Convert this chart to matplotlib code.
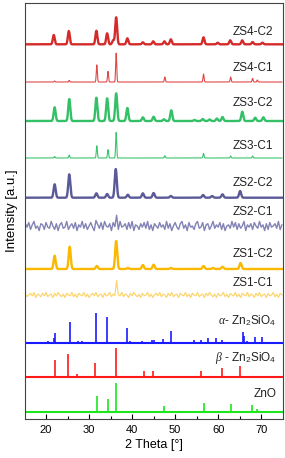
#XRD patterns of the ZS samples with reference sticks
import numpy as np
import matplotlib
matplotlib.use('Agg')
import matplotlib.pyplot as plt

plt.rcParams['font.family'] = ['Liberation Sans', 'DejaVu Sans']
plt.rcParams['mathtext.fontset'] = 'custom'
plt.rcParams['mathtext.rm'] = 'Liberation Sans'
plt.rcParams['mathtext.it'] = 'Liberation Serif:italic'

#measured patterns, peak positions (2 theta) and heights (a.u.)
zs4c2_pos = [21.8, 25.3, 31.7, 34.2, 35.6, 36.3, 38.9, 42.5, 44.9, 47.5, 49.0, 56.6, 59.9, 62.8, 65.6, 68.0, 70.3]
zs4c2_h = [9.3, 13.3, 13.6, 11.0, 4.0, 27.0, 6.0, 2.0, 3.0, 3.0, 5.0, 7.0, 1.6, 4.0, 4.0, 2.3, 1.6]
zs4c1_pos = [22.0, 25.4, 31.8, 34.4, 36.3, 47.6, 56.6, 62.9, 68.0, 69.1]
zs4c1_h = [1.0, 1.6, 17.3, 10.6, 29.0, 5.0, 8.0, 5.0, 3.6, 2.0]
zs3c2_pos = [22.0, 25.4, 31.7, 34.2, 36.3, 38.9, 42.5, 45.0, 47.4, 49.1, 54.5, 56.4, 58.0, 59.7, 61.0, 65.6, 68.6, 70.5]
zs3c2_h = [13.7, 22.0, 23.3, 22.7, 27.7, 13.0, 3.7, 4.3, 1.7, 10.7, 1.0, 2.0, 1.5, 2.5, 4.0, 9.3, 3.3, 3.7]
zs3c1_pos = [22.0, 25.4, 31.8, 34.4, 36.3, 47.6, 56.6, 62.9, 68.0]
zs3c1_h = [1.5, 3.0, 12.3, 8.3, 25.6, 2.3, 4.6, 2.0, 2.0]
zs2c2_pos = [22.0, 25.4, 31.7, 34.2, 36.2, 39.0, 42.5, 45.0, 49.0, 56.5, 58.6, 61.0, 65.1]
zs2c2_h = [13.4, 23.4, 4.4, 3.7, 28.7, 3.0, 4.4, 4.7, 1.7, 2.7, 1.7, 3.4, 6.7]
zs2c1_pos = [31.7, 36.3]
zs2c1_h = [4.0, 12.0]
zs1c2_pos = [22.0, 25.5, 31.8, 36.3, 39.0, 42.5, 45.0, 49.0, 56.6, 58.8, 61.0, 65.2]
zs1c2_h = [13.3, 22.3, 3.0, 28.0, 1.0, 4.0, 4.3, 1.0, 3.0, 1.0, 2.3, 6.0]
zs1c1_pos = [36.3]
zs1c1_h = [16.0]

#noise (a.u.)
zs2c1_noise = [2,-1,3,-3,1,4,-2,0,-4,2,1,-3,3,-1,-2,4,0,-3,2,-4,1,3,-2,-1,4,-3,0,2,-2,3,
               -4,1,-1,4,-2,2,-3,0,3,-1,-4,2,1,-2,3,-3,4,0,-1,2,-4,3,-2,1,-3,4,-1,0,2,-3,
               3,-2,4,-4,1,0,-3,2,-1,3,-2,4,-3,1,-4,2,0,-2,3,-1,1,-3,4,-2,2,-4,0,3,-1,-3,
               2,4,-2,1,-4,3,-1,0,-3,2,4,-2,-1,3,-4,1,2,-3,0,4,-2,1,-1,3,-3,2,-4,0,1,-2,
               4,-1,3,-3,2,-2,0,4,-4,1,-1,2,-3,3,0,-2,4,-1,1,-4,2,-3,3,-1,0,2,-2,4,-3,1]
zs1c1_noise = [1,-2,0,2,-1,3,-3,1,0,-2,2,-1,3,-2,0,1,-3,2,-1,3,0,-2,1,-3,2,0,-1,3,-2,1,
               -3,2,0,-1,3,-2,1,-3,0,2,-1,3,-2,0,1,-3,2,-1,0,3,-2,1,-3,2,0,-1,3,-2,1,0,
               -3,2,-1,3,0,-2,1,-3,2,-1,0,3,-2,1,-3,0,2,-1,3,-2,1,0,-3,2,-1,3,-2,0,1,-3,
               2,0,-1,3,-2,1,-3,2,0,-1,3,-2,0,1,-3,2,-1,3,0,-2,1,-3,2,-1,0,3,-2,1,-3,2,
               0,-1,3,-2,1,-3,2,0,-1,3,-2,1,0,-3,2,-1,3,-2,0,1,-3,2,-1,0,3,-2,1,-3,2,0]

#reference sticks
alpha_pos = [20.5, 21.8, 22.2, 25.6, 27.5, 28.4, 31.7, 34.1, 35.5, 38.9, 39.5, 42.3, 43.6, 44.7, 45.1, 47.1, 49.0,
             50.5, 54.3, 56.1, 57.6, 59.6, 61.0, 65.7, 66.0, 66.7, 68.6, 70.2]
alpha_h = [1.3, 4.4, 9.7, 21.0, 1.7, 2.0, 29.4, 25.4, 1.0, 14.7, 1.7, 1.7, 1.0, 2.7, 2.3, 3.3, 11.7,
           0.7, 2.7, 2.3, 4.3, 5.0, 2.7, 10.3, 7.0, 1.3, 5.3, 5.3]
beta_pos = [22.0, 25.2, 27.2, 31.3, 36.3, 39.0, 42.7, 44.8, 47.8, 50.8, 56.1, 58.8, 60.8, 65.1]
beta_h = [17.3, 23.3, 3.3, 14.6, 29.0, 1.7, 6.3, 6.3, 1.7, 1.7, 6.3, 1.7, 9.0, 11.6]
zno_pos = [31.8, 34.4, 36.3, 47.5, 56.6, 62.9, 66.4, 67.9, 69.1, 72.6]
zno_h = [16.6, 13.0, 29.6, 6.6, 9.6, 8.3, 1.3, 7.0, 3.6, 1.3]

labels = ['ZS4-C2', 'ZS4-C1', 'ZS3-C2', 'ZS3-C1', 'ZS2-C2', 'ZS2-C1', 'ZS1-C2', 'ZS1-C1']
offsets = [374.7, 337, 298, 261, 221.3, 193, 150, 124]
label_y = [386.7, 350.7, 315.7, 273, 235.7, 207.3, 165, 136.3]
colors = ['#d42a2a', '#e04848', '#33c066', '#3cc46c', '#5a5a98', '#6c6ca8', '#fbb800', '#fcc840']

def profile(x, pos, h, w):
    y = np.zeros_like(x)
    for p, a in zip(pos, h):
        y += a*np.exp(-0.5*((x-p)/w)**2)
    return y

fig = plt.figure(figsize=(2.85, 4.58), dpi=100)
ax = fig.add_axes([0.086, 0.0852, 0.906, 0.9082])

x = np.linspace(15.2, 74.8, 1500)
xn = np.linspace(15.2, 74.8, 150)

patterns = [(zs4c2_pos, zs4c2_h, 0.22, 1.7), (zs4c1_pos, zs4c1_h, 0.12, 0.8),
            (zs3c2_pos, zs3c2_h, 0.23, 1.7), (zs3c1_pos, zs3c1_h, 0.12, 0.8),
            (zs2c2_pos, zs2c2_h, 0.24, 1.7), None,
            (zs1c2_pos, zs1c2_h, 0.24, 1.7), None]

for i, pat in enumerate(patterns):
    if pat is None:
        continue
    pos, h, w, lw = pat
    ax.plot(x, offsets[i] + profile(x, pos, h, w), color=colors[i], lw=lw)

ax.plot(xn, offsets[5] + 1.15*np.array(zs2c1_noise) + profile(xn, zs2c1_pos, zs2c1_h, 0.15),
        color=colors[5], lw=1.0, alpha=0.85)
ax.plot(xn, offsets[7] + 0.85*np.array(zs1c1_noise) + profile(xn, zs1c1_pos, zs1c1_h, 0.15),
        color=colors[7], lw=0.9, alpha=0.75)

for i, lab in enumerate(labels):
    ax.text(0.962, label_y[i], lab, transform=ax.get_yaxis_transform(),
            ha='right', va='center', fontsize=8.5, color='#222222')

sticks = [(alpha_pos, alpha_h, 76.3, '#1a1aff', r'$\alpha$- Zn$_2$SiO$_4$', 98),
          (beta_pos, beta_h, 41.7, '#ff1a1a', r'$\beta$ - Zn$_2$SiO$_4$', 60.7),
          (zno_pos, zno_h, 6.7, '#1ee61e', 'ZnO', 24.7)]
for pos, h, base, c, lab, ly in sticks:
    ax.axhline(base, color=c, lw=1.5)
    ax.vlines(pos, base, base + np.array(h), color=c, lw=1.2)
    ax.text(0.975, ly, lab, transform=ax.get_yaxis_transform(),
            ha='right', va='center', fontsize=8.5, color='#222222')

ax.set_xlim(15, 75)
ax.set_ylim(0, 416)
ax.set_yticks([])
ax.set_xticks([20, 30, 40, 50, 60, 70])
ax.set_xticks([25, 35, 45, 55, 65], minor=True)
ax.tick_params(axis='x', which='major', direction='in', length=3.5, width=0.8, labelsize=8, pad=4)
ax.tick_params(axis='x', which='minor', direction='in', length=2, width=0.8)
for s in ax.spines.values():
    s.set_color('#444444')
    s.set_linewidth(0.8)
ax.set_xlabel('2 Theta [°]', fontsize=9, labelpad=3)
ax.set_ylabel('Intensity [a.u.]', fontsize=9.5, labelpad=5)

plt.savefig('out.png', dpi=100)
